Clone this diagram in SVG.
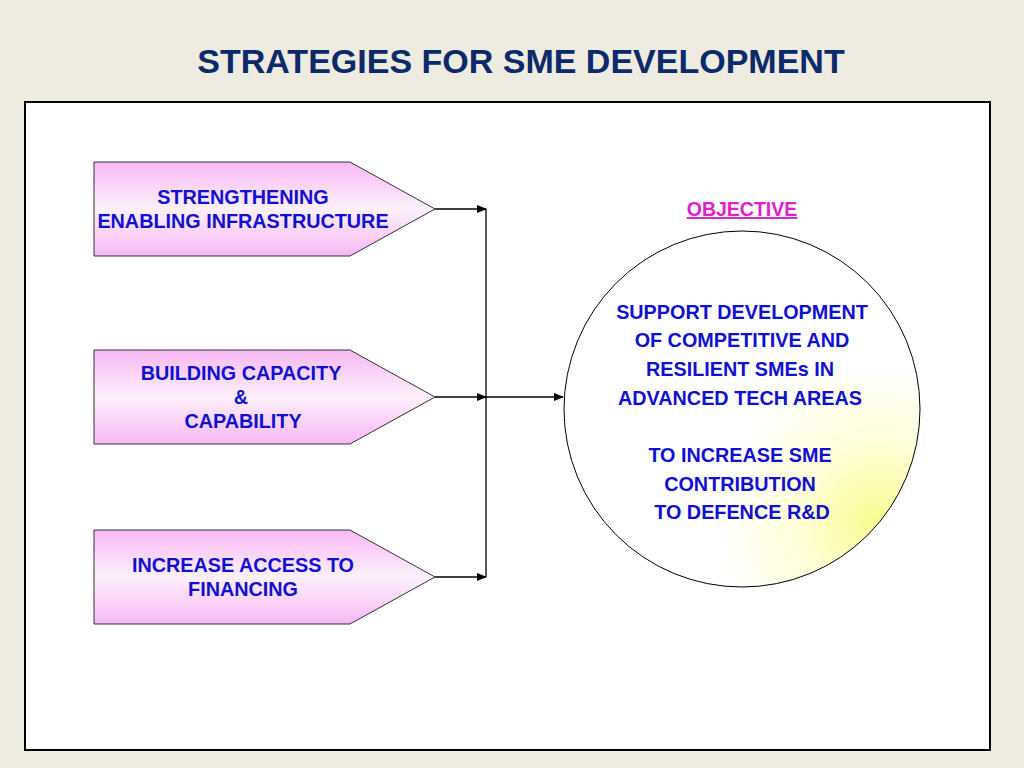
<svg xmlns="http://www.w3.org/2000/svg" width="1024" height="768" viewBox="0 0 1024 768">
<defs>
<linearGradient id="pk" x1="0" y1="0" x2="0" y2="1">
<stop offset="0" stop-color="#f7b8f4"/><stop offset="0.5" stop-color="#fdf0fc"/><stop offset="1" stop-color="#f7b8f4"/>
</linearGradient>
<radialGradient id="yl" cx="0.88" cy="0.82" r="0.45">
<stop offset="0" stop-color="#fbfb90"/><stop offset="0.5" stop-color="#fefed8"/><stop offset="1" stop-color="#ffffff"/>
</radialGradient>
<marker id="ar" markerWidth="10" markerHeight="8" refX="9" refY="4" orient="auto" markerUnits="userSpaceOnUse">
<path d="M0,0 L10,4 L0,8 Z" fill="#000"/>
</marker>
</defs>
<style>
.p{fill:url(#pk);stroke:#333;stroke-width:1}
.t{font-family:"Liberation Sans",Arial,sans-serif;font-weight:bold;font-size:19.8px;fill:#1010d0;text-anchor:middle}
.c{stroke:#000;stroke-width:1.3;fill:none}
</style>
<rect width="1024" height="768" fill="#eeebe1"/>
<text x="521" y="73" font-family="'Liberation Sans',Arial,sans-serif" font-weight="bold" font-size="34" fill="#0a2a6a" text-anchor="middle">STRATEGIES FOR SME DEVELOPMENT</text>
<rect x="25" y="102" width="965" height="648" fill="#fff" stroke="#000" stroke-width="2"/>
<g id="n1"><path class="p" d="M94,162 H350 L435,209 L350,256 H94 Z"/>
<text class="t" x="243" y="204">STRENGTHENING</text><text class="t" x="243" y="228">ENABLING INFRASTRUCTURE</text></g>
<g id="n2"><path class="p" d="M94,350 H350 L435,397 L350,444 H94 Z"/>
<text class="t" x="241" y="380">BUILDING CAPACITY</text><text class="t" x="241" y="404">&amp;</text><text class="t" x="243" y="428">CAPABILITY</text></g>
<g id="n3"><path class="p" d="M94,530 H350 L435,577 L350,624 H94 Z"/>
<text class="t" x="243" y="572">INCREASE ACCESS TO</text><text class="t" x="243" y="596">FINANCING</text></g>
<g id="obj">
<text x="742" y="216" font-family="'Liberation Sans',Arial,sans-serif" font-weight="bold" font-size="19.5" fill="#e020d0" text-anchor="middle" text-decoration="underline">OBJECTIVE</text>
<circle cx="742" cy="409" r="178" fill="url(#yl)" stroke="#000" stroke-width="1"/>
<text class="t" x="742" y="319">SUPPORT DEVELOPMENT</text>
<text class="t" x="742" y="347">OF COMPETITIVE AND</text>
<text class="t" x="740" y="376">RESILIENT SMEs IN</text>
<text class="t" x="740" y="405">ADVANCED TECH AREAS</text>
<text class="t" x="740" y="462">TO INCREASE SME</text>
<text class="t" x="740" y="491">CONTRIBUTION</text>
<text class="t" x="742" y="519">TO DEFENCE R&amp;D</text>
</g>
<g id="connectors">
<line class="c" x1="435" y1="209" x2="486" y2="209" marker-end="url(#ar)"/>
<line class="c" x1="435" y1="397" x2="486" y2="397" marker-end="url(#ar)"/>
<line class="c" x1="435" y1="577" x2="486" y2="577" marker-end="url(#ar)"/>
<line class="c" x1="486" y1="209" x2="486" y2="577"/>
<line class="c" x1="486" y1="397" x2="563" y2="397" marker-end="url(#ar)"/>
</g>
</svg>
